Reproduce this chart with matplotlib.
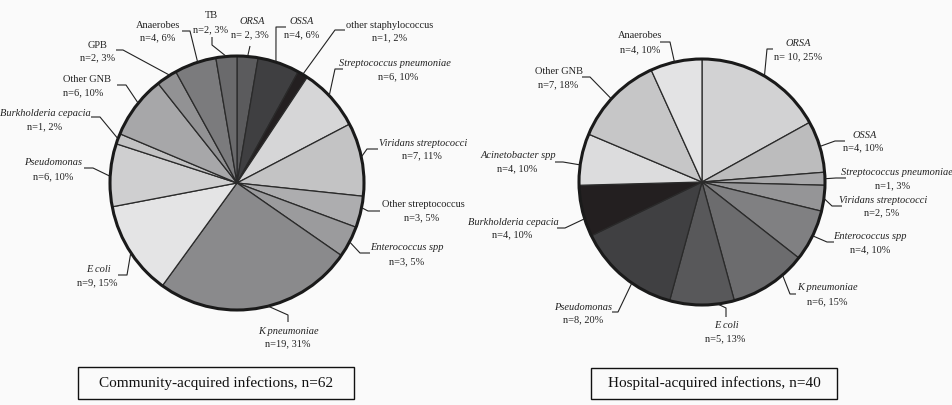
import numpy as np
import matplotlib
matplotlib.use("Agg")
import matplotlib.pyplot as plt
from matplotlib.patches import Circle, Rectangle

plt.rcParams['font.family'] = ['Liberation Serif', 'DejaVu Serif']

# ---------------- data ----------------
ca_labels = ["ORSA", "OSSA", "other staphylococcus", "Streptococcus pneumoniae",
             "Viridans streptococci", "Other streptococcus", "Enterococcus spp",
             "K pneumoniae", "E coli", "Pseudomonas", "Burkholderia cepacia",
             "Other GNB", "GPB", "Anaerobes", "TB"]
ca_counts = [2, 4, 1, 6, 7, 3, 3, 19, 9, 6, 1, 6, 2, 4, 2]
ca_pct = [3, 6, 2, 10, 11, 5, 5, 31, 15, 10, 2, 10, 3, 6, 3]
ca_italic = [True, True, False, True, True, False, True, True, True, True, True,
             False, False, False, False]
ca_total = 62

ha_labels = ["ORSA", "OSSA", "Streptococcus pneumoniae", "Viridans streptococci",
             "Enterococcus spp", "K pneumoniae", "E coli", "Pseudomonas",
             "Burkholderia cepacia", "Acinetobacter spp", "Other GNB", "Anaerobes"]
ha_counts = [10, 4, 1, 2, 4, 6, 5, 8, 4, 4, 7, 4]
ha_pct = [25, 10, 3, 5, 10, 15, 13, 20, 10, 10, 18, 10]
ha_italic = [True, True, True, True, True, True, True, True, True, True, False, False]
ha_total = 40

titles = ["Community-acquired infections, n=%d" % ca_total,
          "Hospital-acquired infections, n=%d" % ha_total]

# ---------------- styles / layout ----------------
ca_colors = ['#5b5b5d', '#3f3f41', '#231f20', '#d6d6d7', '#c3c3c4', '#adadaf',
             '#9b9b9d', '#8a8a8c', '#e4e4e5', '#cfcfd0', '#c2c2c3', '#a7a7a9',
             '#929294', '#7b7b7d', '#6a6a6c']
ha_colors = ['#d2d2d3', '#bcbcbd', '#a8a8aa', '#959597', '#808082', '#6c6c6e',
             '#58585a', '#404042', '#231f20', '#dcdcdd', '#c6c6c7', '#e3e3e4']

H = 405.0
def Y(y):
    return H - y

# label layout in pixel coordinates (origin top-left):
# (line1 x, line1 y, line2 x, line2 y, knee, end, fraction along wedge)
ca_layout = [
    (252, 21, 250, 35, None, (250, 46), 0.5),
    (302, 21, 302, 35, (276, 27), (286, 27), 0.43),
    (390, 25, 390, 38, (335, 30), (345, 30), 0.5),
    (395, 64, 398, 77, (335, 69), (343, 69), 0.45),
    (423, 143, 422, 156, (367, 149), (378, 149), 0.47),
    (423, 205, 422, 218, (368, 211), (380, 211), 0.36),
    (407, 248, 407, 262, (360, 253), (370, 253), 0.5),
    (288, 331, 288, 344, (288, 315), (288, 322), 0.45),
    (98, 269, 97, 283, (127, 275), (118, 275), 0.48),
    (53, 163, 53, 177, (93, 168), (84, 168), 0.48),
    (45, 113, 45, 127, (100, 117), (91, 117), 0.5),
    (87, 79, 83, 93, (126, 85), (117, 85), 0.56),
    (98, 45, 98, 58, (123, 50), (116, 50), 0.67),
    (158, 25, 158, 38, (190, 31), (182, 31), 0.56),
    (211, 15, 211, 30, (212, 45), (212, 37), 0.5),
]
ha_layout = [
    (798, 43, 798, 57, (767, 49), (773, 49), 0.5),
    (865, 135, 863, 148, (835, 141), (845, 141), 0.5),
    (897, 173, 893, 186, (836, 178), (846, 178), 0.5),
    (883, 201, 882, 213, (832, 206), (842, 206), 0.5),
    (870, 237, 870, 250, (827, 242), (834, 242), 0.5),
    (827, 288, 827, 302, (790, 294), (796, 294), 0.3),
    (726, 326, 725, 339, (726, 308), (726, 317), 0.26),
    (583, 307, 583, 320, (618, 312), (612, 312), 0.4),
    (513, 223, 512, 235, (565, 228), (557, 228), 0.35),
    (518, 156, 517, 169, (563, 162), (555, 162), 0.39),
    (559, 72, 558, 85, (590, 77), (582, 77), 0.46),
    (640, 36, 640, 50, (670, 42), (660, 42), 0.47),
]

pies = [
    dict(center=(237, Y(183)), radius=127, counts=ca_counts, colors=ca_colors,
         labels=ca_labels, pct=ca_pct, italic=ca_italic, layout=ca_layout,
         box=(78, 367, 276, 32)),
    dict(center=(702, Y(182)), radius=123, counts=ha_counts, colors=ha_colors,
         labels=ha_labels, pct=ha_pct, italic=ha_italic, layout=ha_layout,
         box=(591, 368, 246, 31)),
]

fig = plt.figure(figsize=(9.53, 4.05), dpi=100, facecolor='#fafafa')
ax = fig.add_axes([0, 0, 1, 1])
ax.set_facecolor('#fafafa')

LFS = 7.5
for p, title in zip(pies, titles):
    wedges, _ = ax.pie(p['counts'], colors=p['colors'], startangle=90,
                       counterclock=False, center=p['center'], radius=p['radius'],
                       wedgeprops=dict(edgecolor='#2a2a2a', linewidth=0.9))
    ax.add_patch(Circle(p['center'], p['radius'], fill=False,
                        edgecolor='#1a1a1a', linewidth=2.2, zorder=5))
    cx, cy = p['center']
    r = p['radius']
    for w, lab, n, pc, it, lay in zip(wedges, p['labels'], p['counts'],
                                      p['pct'], p['italic'], p['layout']):
        x1, y1, x2, y2, knee, end, frac = lay
        ang = np.deg2rad(w.theta2 - frac * (w.theta2 - w.theta1))
        ex, ey = cx + r * np.cos(ang), cy + r * np.sin(ang)
        xs = [ex]
        ys = [ey]
        if knee is not None:
            xs.append(knee[0]); ys.append(Y(knee[1]))
        xs.append(end[0]); ys.append(Y(end[1]))
        ax.plot(xs, ys, color='#222222', lw=0.8, solid_capstyle='butt', zorder=6)
        ax.text(x1, Y(y1), lab, ha='center', va='center', fontsize=LFS,
                style='italic' if it else 'normal', color='#222222')
        sep = ' ' if lab == 'ORSA' else ''
        ax.text(x2, Y(y2), "n=%s%d, %d%%" % (sep, n, pc), ha='center', va='center',
                fontsize=LFS, color='#222222')
    bx, by, bw, bh = p['box']
    ax.add_patch(Rectangle((bx, Y(by + bh)), bw, bh, fill=False,
                           edgecolor='#111111', linewidth=1.0))
    ax.text(bx + bw / 2, Y(by + bh / 2), title, ha='center', va='center',
            fontsize=11, color='#111111')

ax.set_xlim(0, 953)
ax.set_ylim(0, 405)
ax.set_aspect('equal')
ax.axis('off')

fig.savefig('out.png', dpi=100, facecolor=fig.get_facecolor())
